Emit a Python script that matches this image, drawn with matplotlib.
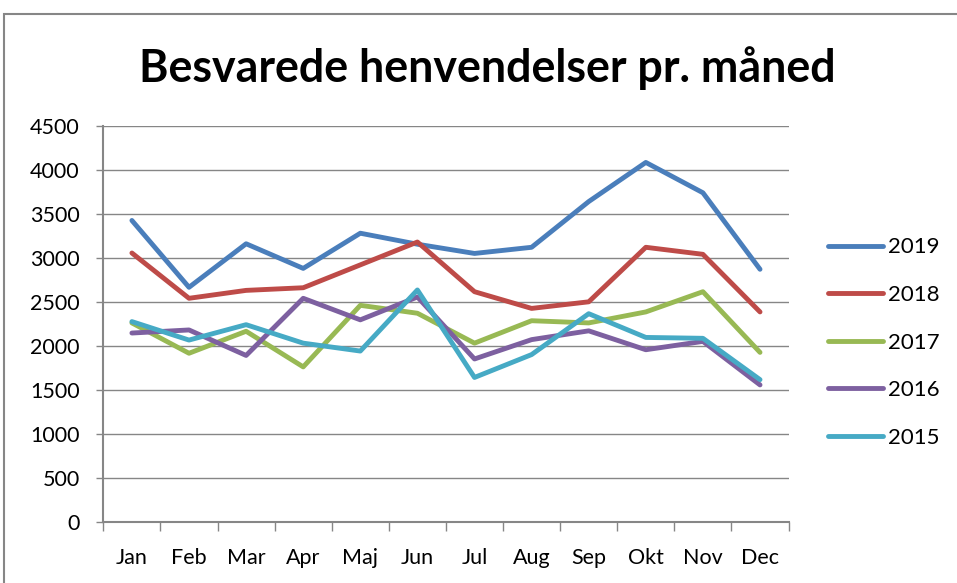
import matplotlib
matplotlib.use("Agg")
import matplotlib.pyplot as plt
from matplotlib.patches import Rectangle

plt.rcParams['font.family'] = ['Lato', 'DejaVu Sans']

months = ['Jan', 'Feb', 'Mar', 'Apr', 'Maj', 'Jun',
          'Jul', 'Aug', 'Sep', 'Okt', 'Nov', 'Dec']

y2019 = [3425, 2665, 3160, 2880, 3280, 3155, 3050, 3120, 3640, 4085, 3740, 2870]
y2018 = [3055, 2540, 2630, 2660, 2920, 3180, 2615, 2425, 2500, 3120, 3040, 2385]
y2017 = [2260, 1915, 2165, 1760, 2460, 2370, 2030, 2285, 2260, 2385, 2615, 1925]
y2016 = [2145, 2180, 1890, 2540, 2295, 2555, 1850, 2070, 2170, 1955, 2050, 1555]
y2015 = [2275, 2065, 2240, 2030, 1940, 2635, 1640, 1900, 2365, 2095, 2085, 1615]

series = [('2019', y2019, '#4A7EBB'),
          ('2018', y2018, '#BE4B48'),
          ('2017', y2017, '#98B954'),
          ('2016', y2016, '#7D60A0'),
          ('2015', y2015, '#46AAC5')]

grey = '#868686'

fig = plt.figure(figsize=(9.57, 5.83), dpi=100)

# outer chart border (runs off the right and bottom edge)
fig.patches.append(Rectangle((4 / 957, -0.1), 2, 0.976 + 0.1, transform=fig.transFigure,
                             fill=False, edgecolor=grey, linewidth=1.5))

ax = fig.add_axes([0.108, 0.1052, 0.716, 0.6788])

x = list(range(len(months)))
for name, vals, col in series:
    ax.plot(x, vals, color=col, linewidth=3.5, label=name,
            solid_capstyle='round', solid_joinstyle='round')

ax.set_xlim(-0.5, 11.5)
ax.set_ylim(0, 4500)
ax.set_yticks(range(0, 4501, 500))
ax.yaxis.grid(True, color=grey, linewidth=1.0)
ax.set_axisbelow(True)

ax.set_xticks(x)
ax.set_xticklabels(months)
ax.set_xticks([i - 0.5 for i in range(13)], minor=True)
ax.tick_params(axis='x', which='major', length=0, pad=19, labelsize=15.5)
ax.tick_params(axis='x', which='minor', length=6.5, width=1, color=grey)
ax.tick_params(axis='y', length=5, width=1, color=grey, pad=12, labelsize=15.5)

for s in ['top', 'right']:
    ax.spines[s].set_visible(False)
for s in ['left', 'bottom']:
    ax.spines[s].set_color(grey)
    ax.spines[s].set_linewidth(1.5)

fig.text(0.509, 0.859, 'Besvarede henvendelser pr. måned', ha='center', va='baseline',
         fontsize=32.2, fontweight='bold')

fig.legend(loc='center left', bbox_to_anchor=(0.865, 0.4125), bbox_transform=fig.transFigure,
           frameon=False, fontsize=16, handlelength=2.5, handletextpad=0.2,
           labelspacing=1.24, borderpad=0, borderaxespad=0)

fig.savefig('out.png', dpi=100)
